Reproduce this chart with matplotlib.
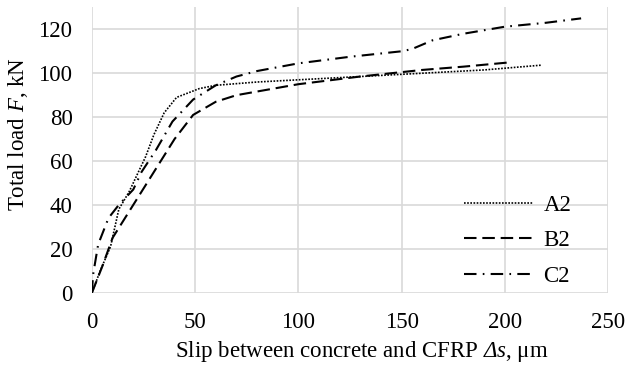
import matplotlib
matplotlib.use("Agg")
import matplotlib.pyplot as plt

plt.rcParams['font.family'] = ['Liberation Serif', 'DejaVu Serif']
plt.rcParams['mathtext.fontset'] = 'custom'
plt.rcParams['mathtext.rm'] = 'Liberation Serif'
plt.rcParams['mathtext.it'] = 'Liberation Serif:italic'
plt.rcParams['mathtext.sf'] = 'Liberation Serif:italic'

a2_x = [0, 4, 9, 13, 18, 26, 30, 35, 41, 52, 60, 80, 100, 130, 160, 190, 218]
a2_y = [0, 10, 21, 38, 46, 62, 72, 82, 89, 93, 94.5, 96, 97, 98.5, 100, 101.5, 103.7]

b2_x = [0, 5, 10, 20, 30, 40, 49, 60, 70, 85, 100, 130, 160, 180, 203]
b2_y = [0, 12, 25, 40, 55, 70, 81, 87, 90, 92.5, 95, 98.5, 101.5, 103, 105]

c2_x = [0, 0.5, 3, 8, 13, 20, 24, 31, 39, 49, 60, 70, 80, 100, 125, 150, 155, 165, 180, 200, 220, 237]
c2_y = [0, 8, 22, 34, 40, 47, 55, 65, 78, 88, 94.5, 98.5, 101, 104.5, 107.5, 110, 111, 115, 118, 121.2, 123, 125]

x_ticks = [0, 50, 100, 150, 200, 250]
y_ticks = [0, 20, 40, 60, 80, 100, 120]

fs = 16.5
fig = plt.figure(figsize=(6.3, 3.7), dpi=100)
ax = fig.add_axes([0.146, 0.209, 0.819, 0.771])

ax.plot(a2_x, a2_y, color='black', lw=1.2, linestyle=(0, (1, 0.9)), label='A2')
ax.plot(b2_x, b2_y, color='black', lw=1.5, linestyle=(0, (6, 2.8)), label='B2')
ax.plot(c2_x, c2_y, color='black', lw=1.5, linestyle=(0, (6, 3, 0.8, 3)), label='C2')

ax.set_xlim(0, 250)
ax.set_ylim(0, 130)
ax.set_xticks(x_ticks)
ax.set_yticks(y_ticks)
ax.grid(True, color='#d9d9d9', lw=1.2)
ax.set_axisbelow(True)
for s in ax.spines.values():
    s.set_visible(False)
ax.tick_params(axis='x', length=0, labelsize=fs, pad=14)
ax.tick_params(axis='y', length=0, labelsize=fs, pad=14)

ax.set_xlabel(r"Slip between concrete and CFRP $\mathsf{Δ}\mathit{s}$, μm", fontsize=fs, labelpad=4)
ax.set_ylabel(r"Total load $\mathit{F}$, kN", fontsize=fs, labelpad=6)
ax.xaxis.label.set_x(0.523)
ax.yaxis.label.set_y(0.556)

leg = ax.legend(loc='lower right', frameon=False, fontsize=fs, handlelength=3.0,
                handletextpad=0.45, labelspacing=0.64, borderaxespad=0, borderpad=0,
                bbox_to_anchor=(0.929, 0.02))

fig.savefig('out.png', dpi=100)
